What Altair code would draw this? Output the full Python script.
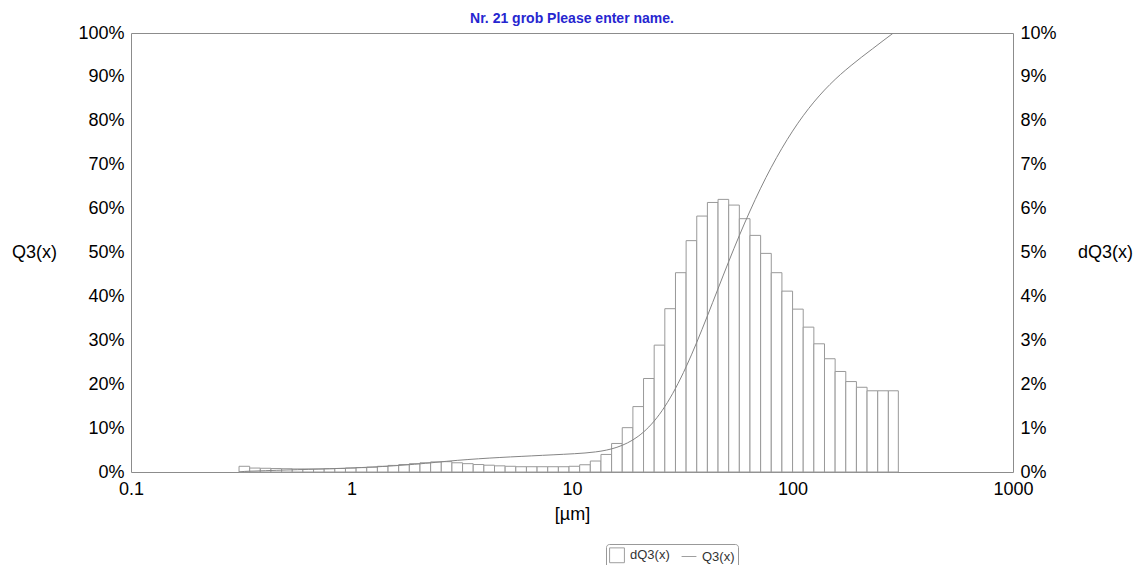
import altair as alt
import numpy as np
import pandas as pd

# ---- data ----
TITLE = "Nr. 21 grob Please enter name."

# class edges in µm (62 classes)
EDGES = [0.309, 0.3453, 0.3859, 0.4313, 0.4820, 0.5387, 0.6020, 0.6728, 0.7519, 0.8403,
         0.9391, 1.0495, 1.1729, 1.3108, 1.4649, 1.6371, 1.8296, 2.0447, 2.2851, 2.5538,
         2.8540, 3.1896, 3.5646, 3.9837, 4.4521, 4.9755, 5.5605, 6.2143, 6.9449, 7.7614,
         8.6740, 9.6938, 10.834, 12.107, 13.531, 15.122, 16.900, 18.887, 21.107, 23.589,
         26.362, 29.462, 32.926, 36.797, 41.123, 45.958, 51.362, 57.400, 64.149, 71.691,
         80.120, 89.540, 100.07, 111.83, 124.98, 139.67, 156.09, 174.45, 194.96, 217.88,
         243.49, 272.12, 302.0]

# dQ3(x) per class, in %
DQ3 = [0.13, 0.09, 0.085, 0.08, 0.075, 0.07, 0.07, 0.07, 0.075, 0.08,
       0.09, 0.10, 0.11, 0.13, 0.15, 0.17, 0.19, 0.21, 0.23, 0.235,
       0.21, 0.19, 0.17, 0.155, 0.14, 0.13, 0.12, 0.12, 0.12, 0.12,
       0.12, 0.13,
       0.165, 0.25, 0.40, 0.65, 1.01, 1.49, 2.13, 2.89, 3.72, 4.54,
       5.27, 5.83, 6.14, 6.21, 6.08, 5.77, 5.39, 4.98, 4.54, 4.12,
       3.71, 3.30, 2.92, 2.58, 2.29, 2.06, 1.93, 1.85, 1.85, 1.85]

X_TICKS = [0.1, 1, 10, 100, 1000]
Q3_TICKS = [0, 10, 20, 30, 40, 50, 60, 70, 80, 90, 100]
DQ3_TICKS = [0, 1, 2, 3, 4, 5, 6, 7, 8, 9, 10]
LEGEND_LABELS = ["dQ3(x)", "Q3(x)"]

# ---- tables ----
lo = np.array(EDGES[:-1])
hi = np.array(EDGES[1:])
bars_df = pd.DataFrame({"lo": lo, "hi": hi, "dq3": DQ3})
# Q3 = cumulative of dQ3, plotted at the class mean (geometric centre)
mid = np.sqrt(lo * hi)
q3 = np.minimum(np.cumsum(DQ3), 100.0)
line_df = pd.DataFrame({"x": np.concatenate([[EDGES[0]], mid]),
                        "q3": np.concatenate([[0.0], q3])})
legend_df = pd.DataFrame({"x": [0.01, 0.01], "series": LEGEND_LABELS})

FONT = "Liberation Sans"
GRAY = "#8c8c8c"

xscale = alt.Scale(type="log", domain=[0.1, 1000], nice=False)
xaxis = alt.Axis(values=X_TICKS, format="~g", title="[µm]", labelPadding=8,
                 titleY=42, titleBaseline="middle", ticks=False, domain=False,
                 grid=False, labelFlush=False)

bars = alt.Chart(bars_df).mark_rect(fill="white", stroke="#999999", strokeWidth=1).encode(
    x=alt.X("lo:Q", scale=xscale, axis=xaxis),
    x2="hi:Q",
    y=alt.Y("dq3:Q", scale=alt.Scale(domain=[0, 10], nice=False, zero=True),
            axis=alt.Axis(orient="right", values=DQ3_TICKS, labelExpr="datum.value + '%'",
                          title="dQ3(x)", titleAngle=0, titleX=92, titleY=219,
                          titleAlign="center", titleBaseline="middle",
                          ticks=False, domain=False, grid=False, labelPadding=7,
                          labelFlush=False)),
    y2=alt.datum(0),
)

line = alt.Chart(line_df).mark_line(color="#858585", strokeWidth=1, interpolate="monotone",
                                    clip=True).encode(
    x=alt.X("x:Q", scale=xscale, axis=xaxis),
    y=alt.Y("q3:Q", scale=alt.Scale(domain=[0, 100], nice=False, zero=True),
            axis=alt.Axis(orient="left", values=Q3_TICKS, labelExpr="datum.value + '%'",
                          title="Q3(x)", titleAngle=0, titleX=-97, titleY=219,
                          titleAlign="center", titleBaseline="middle",
                          ticks=False, domain=False, grid=False, labelPadding=7,
                          labelFlush=False)),
)

leg = alt.Chart(legend_df).mark_point(clip=True, filled=False, color="#777777",
                                      strokeWidth=1).encode(
    x=alt.X("x:Q", scale=xscale, axis=xaxis),
    y=alt.value(0),
    shape=alt.Shape("series:N",
                    scale=alt.Scale(domain=LEGEND_LABELS, range=["square", "stroke"]),
                    legend=alt.Legend(orient="none", legendX=475, legendY=511,
                                      direction="horizontal", title=None,
                                      strokeColor="#999999", fillColor="white",
                                      padding=3, cornerRadius=3,
                                      labelFontSize=13, labelFont=FONT,
                                      labelColor="#333333",
                                      symbolSize=220, symbolStrokeWidth=1,
                                      symbolStrokeColor="#777777",
                                      symbolFillColor="white",
                                      columnPadding=9, labelOffset=5)),
)

chart = alt.layer(bars, line, leg).resolve_scale(y="independent").properties(
    width=882, height=439,
    title=alt.TitleParams(TITLE, fontSize=14, fontWeight="bold", color="#2626d0",
                          anchor="middle", offset=9, dy=11, font=FONT),
    autosize=alt.AutoSizeParams(type="none"),
    padding={"left": 131, "top": 33, "right": 126, "bottom": 93},
).configure(
    font=FONT, background="white",
).configure_view(
    stroke=GRAY, strokeWidth=1,
).configure_axis(
    labelFont=FONT, titleFont=FONT, labelFontSize=18, titleFontSize=18,
    labelColor="black", titleColor="black", titleFontWeight="normal",
)

chart.save("out.html", embed_options={"renderer": "svg", "actions": False})
